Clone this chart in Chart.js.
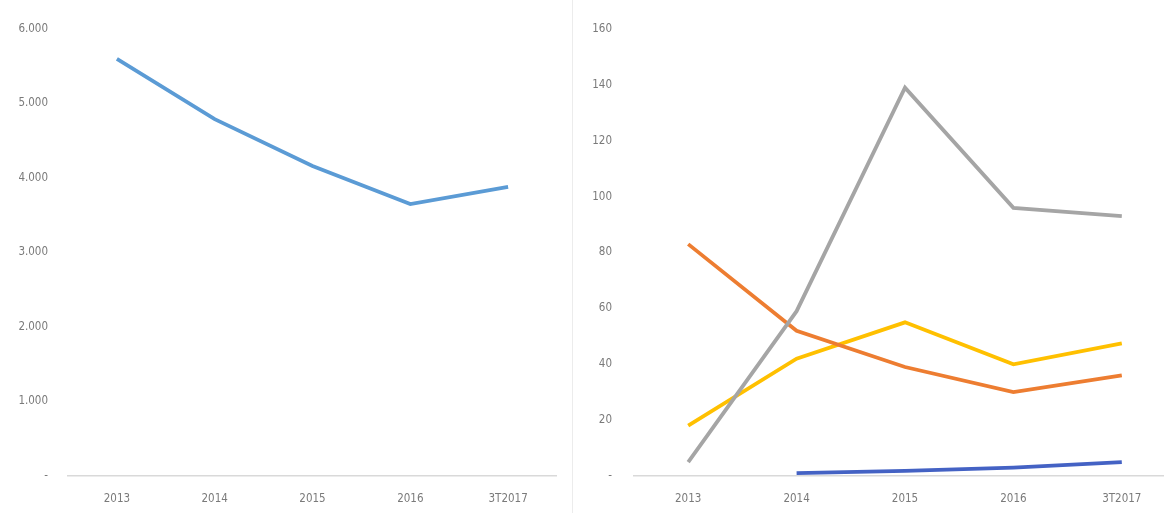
<!DOCTYPE html>
<html>
<head>
<meta charset="utf-8">
<script src="https://cdn.jsdelivr.net/npm/chart.js@4"></script>
<style>
  html, body { margin: 0; padding: 0; background: #fff; overflow: hidden; }
  body { width: 1164px; height: 513px; position: relative; }
  #leftBox { position: absolute; left: 0; top: 0; width: 572px; height: 513px; border-right: 1px solid #ececec; }
  #rightBox { position: absolute; left: 580px; top: 0; width: 596px; height: 513px; }
</style>
</head>
<body>
<div id="leftBox"><canvas id="leftChart"></canvas></div>
<div id="rightBox"><canvas id="rightChart"></canvas></div>
<script>
const years = ['2013', '2014', '2015', '2016', '3T2017'];

const leftValues = [5600, 4790, 4160, 3650, 3880];
const leftTicks = ['-', '1.000', '2.000', '3.000', '4.000', '5.000', '6.000'];

const grayValues = [5, 59, 139, 96, 93];
const orangeValues = [83, 52, 39, 30, 36];
const yellowValues = [18, 42, 55, 40, 47.5];
const blueValues = [null, 1, 1.8, 3, 5];
const rightTicks = ['-', '20', '40', '60', '80', '100', '120', '140', '160'];

const tickFont = { family: "'DejaVu Sans Condensed', 'Liberation Sans Narrow', sans-serif", size: 11.5 };
const tickColor = '#7a7a7a';

function line(data, color) {
    return {
        data: data,
        borderColor: color,
        backgroundColor: color,
        borderWidth: 3.8,
        pointRadius: 0,
        tension: 0,
        spanGaps: false
    };
}

function makeOptions(max, step, labels, axisLeft, labelPad, topPad) {
    return {
        responsive: false,
        animation: false,
        layout: { padding: { top: topPad, right: 0, bottom: 0, left: 0 } },
        plugins: { legend: { display: false }, tooltip: { enabled: false } },
        scales: {
            x: {
                offset: true,
                grid: { display: false, drawTicks: false },
                border: { display: true, color: '#d9d9d9', width: 1.5 },
                ticks: { font: tickFont, color: tickColor, padding: 16, maxRotation: 0 },
                afterFit: s => { s.height = 37; }
            },
            y: {
                min: 0,
                max: max,
                grid: { display: false, drawTicks: false },
                border: { display: false },
                ticks: {
                    stepSize: step,
                    font: tickFont,
                    color: tickColor,
                    padding: labelPad,
                    callback: (v, i) => labels[i]
                },
                afterFit: s => { s.width = axisLeft; }
            }
        }
    };
}

function setup(id, w) {
    const c = document.getElementById(id);
    c.width = w;
    c.height = 513;
    c.style.width = w + 'px';
    c.style.height = '513px';
    return c.getContext('2d');
}

new Chart(setup('leftChart', 557), {
    type: 'line',
    data: { labels: years, datasets: [line(leftValues, '#5B9BD5')] },
    options: makeOptions(6000, 1000, leftTicks, 68, 20, 29)
});

new Chart(setup('rightChart', 596), {
    type: 'line',
    data: {
        labels: years,
        datasets: [
            line(grayValues, '#A5A5A5'),
            line(orangeValues, '#ED7D31'),
            line(yellowValues, '#FFC000'),
            line(blueValues, '#4462C4')
        ]
    },
    options: makeOptions(160, 20, rightTicks, 54, 22, 29)
});
</script>
</body>
</html>
